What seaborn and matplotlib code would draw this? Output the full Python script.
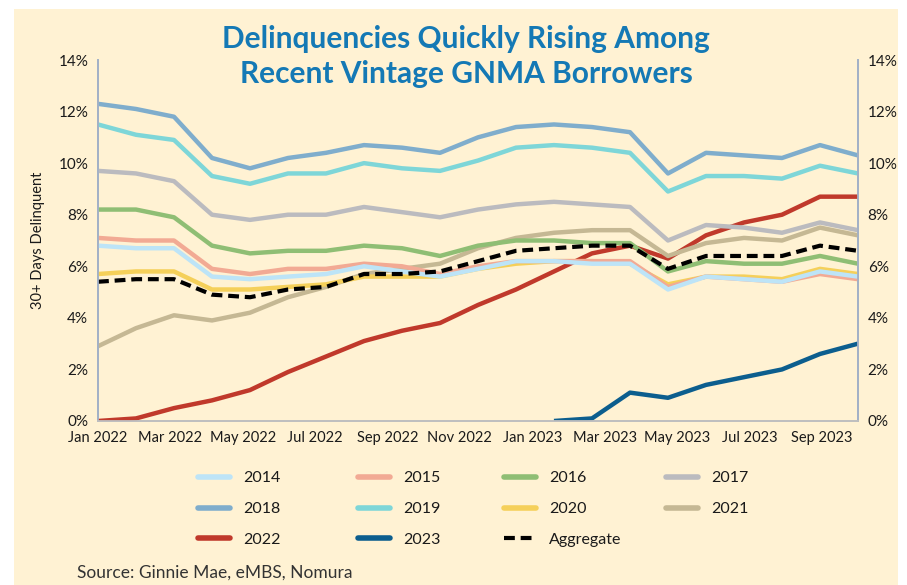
import numpy as np
import pandas as pd
import matplotlib
matplotlib.use("Agg")
import matplotlib.pyplot as plt
from matplotlib.lines import Line2D
from matplotlib.patches import Rectangle
import seaborn as sns

# ---------------- data ----------------
months = ["Jan 2022", "Feb 2022", "Mar 2022", "Apr 2022", "May 2022", "Jun 2022", "Jul 2022",
          "Aug 2022", "Sep 2022", "Oct 2022", "Nov 2022", "Dec 2022", "Jan 2023", "Feb 2023",
          "Mar 2023", "Apr 2023", "May 2023", "Jun 2023", "Jul 2023", "Aug 2023", "Sep 2023"]
tick_labels = ["Jan 2022", "Mar 2022", "May 2022", "Jul 2022", "Sep 2022", "Nov 2022",
               "Jan 2023", "Mar 2023", "May 2023", "Jul 2023", "Sep 2023"]

v2014 = [6.8, 6.7, 6.7, 5.6, 5.5, 5.6, 5.7, 6.0, 5.8, 5.6, 5.9, 6.2, 6.2, 6.1, 6.1, 5.1, 5.6, 5.5, 5.4, 5.8, 5.6]
v2015 = [7.1, 7.0, 7.0, 5.9, 5.7, 5.9, 5.9, 6.1, 6.0, 5.7, 6.0, 6.2, 6.2, 6.2, 6.2, 5.2, 5.6, 5.5, 5.4, 5.7, 5.5]
v2016 = [8.2, 8.2, 7.9, 6.8, 6.5, 6.6, 6.6, 6.8, 6.7, 6.4, 6.8, 7.0, 7.0, 6.9, 6.9, 5.8, 6.2, 6.1, 6.1, 6.4, 6.1]
v2017 = [9.7, 9.6, 9.3, 8.0, 7.8, 8.0, 8.0, 8.3, 8.1, 7.9, 8.2, 8.4, 8.5, 8.4, 8.3, 7.0, 7.6, 7.5, 7.3, 7.7, 7.4]
v2018 = [12.3, 12.1, 11.8, 10.2, 9.8, 10.2, 10.4, 10.7, 10.6, 10.4, 11.0, 11.4, 11.5, 11.4, 11.2, 9.6, 10.4, 10.3, 10.2, 10.7, 10.3]
v2019 = [11.5, 11.1, 10.9, 9.5, 9.2, 9.6, 9.6, 10.0, 9.8, 9.7, 10.1, 10.6, 10.7, 10.6, 10.4, 8.9, 9.5, 9.5, 9.4, 9.9, 9.6]
v2020 = [5.7, 5.8, 5.8, 5.1, 5.1, 5.2, 5.3, 5.6, 5.6, 5.6, 5.9, 6.1, 6.2, 6.2, 6.1, 5.3, 5.6, 5.6, 5.5, 5.9, 5.7]
v2021 = [2.9, 3.6, 4.1, 3.9, 4.2, 4.8, 5.2, 5.7, 5.9, 6.1, 6.7, 7.1, 7.3, 7.4, 7.4, 6.4, 6.9, 7.1, 7.0, 7.5, 7.2]
v2022 = [0.0, 0.1, 0.5, 0.8, 1.2, 1.9, 2.5, 3.1, 3.5, 3.8, 4.5, 5.1, 5.8, 6.5, 6.8, 6.3, 7.2, 7.7, 8.0, 8.7, 8.7]
v2023 = [np.nan] * 12 + [0.0, 0.1, 1.1, 0.9, 1.4, 1.7, 2.0, 2.6, 3.0]
vagg = [5.4, 5.5, 5.5, 4.9, 4.8, 5.1, 5.2, 5.7, 5.7, 5.8, 6.2, 6.6, 6.7, 6.8, 6.8, 5.9, 6.4, 6.4, 6.4, 6.8, 6.6]

series_names = ["2014", "2015", "2016", "2017", "2018", "2019", "2020", "2021", "2022", "2023", "Aggregate"]
series_vals = [v2014, v2015, v2016, v2017, v2018, v2019, v2020, v2021, v2022, v2023, vagg]
colors = ["#BDE4F7", "#F2AA94", "#8FBE74", "#BBBBBF", "#7FADCC", "#7ED6D8",
          "#F5D05A", "#C5B894", "#C0392B", "#0C5E8E", "#000000"]

# ---------------- figure ----------------
sns.set_theme(style="white")
plt.rcParams["font.family"] = ["Lato", "DejaVu Sans"]

fig = plt.figure(figsize=(9.07, 5.85), dpi=100)
fig.patch.set_facecolor("white")
bg = "#FFF2D3"
fig.patches.append(Rectangle((14 / 907, 0), 1 - 14 / 907 - 9 / 907, 1 - 9 / 585,
                             transform=fig.transFigure, facecolor=bg, edgecolor="none", zorder=-10))

ax = fig.add_axes([98 / 907, 1 - 421 / 585, (858 - 98) / 907, (421 - 60) / 585])
ax.set_facecolor(bg)

x = np.arange(len(months))
df = pd.DataFrame({"x": x})
for name, vals in zip(series_names, series_vals):
    df[name] = vals

order = list(range(len(series_names)))[::-1]
for i in order:
    name = series_names[i]
    if name == "Aggregate":
        sns.lineplot(data=df, x="x", y=name, ax=ax, color=colors[i], lw=3.0,
                     linestyle=(0, (2.6, 1.4)), zorder=5)
    else:
        sns.lineplot(data=df, x="x", y=name, ax=ax, color=colors[i], lw=3.2,
                     solid_joinstyle="round", solid_capstyle="butt", zorder=3)

ax.set_xlim(0, len(months) - 1)
ax.set_ylim(0, 14)
ax.set_xticks(np.arange(0, len(months), 2) * (len(months) - 1) / len(months))
ax.set_xticklabels(tick_labels, fontsize=10.5, color="#1a1a1a")
yt = np.arange(0, 15, 2)
ax.set_yticks(yt)
ax.set_yticklabels([f"{v}%" for v in yt], fontsize=11, color="#1a1a1a")
ax.set_xlabel("")
ax.set_ylabel("30+ Days Delinquent", fontsize=10.5, color="#1a1a1a", labelpad=10)
ax.tick_params(axis="both", length=0, pad=7)
ax.grid(False)

ax2 = ax.twinx()
ax2.set_ylim(0, 14)
ax2.set_yticks(yt)
ax2.set_yticklabels([f"{v}%" for v in yt], fontsize=11, color="#1a1a1a")
ax2.tick_params(axis="y", length=0, pad=7)
ax2.grid(False)

for a in (ax, ax2):
    a.spines["top"].set_visible(False)
    a.spines["left"].set_color("#A3B1C6")
    a.spines["right"].set_color("#A3B1C6")
    a.spines["bottom"].set_color("#BFBFBF")
    for s in ("left", "right", "bottom"):
        a.spines[s].set_linewidth(1.3)

# title
fig.text(466 / 907, 1 - 39 / 585, "Delinquencies Quickly Rising Among", ha="center", va="center",
         fontsize=21.5, fontweight="bold", color="#1479B5")
fig.text(466 / 907, 1 - 74 / 585, "Recent Vintage GNMA Borrowers", ha="center", va="center",
         fontsize=21.5, fontweight="bold", color="#1479B5")

# legends: 4 columns laid out like the original
def handle(i):
    if series_names[i] == "Aggregate":
        return Line2D([], [], color=colors[i], lw=3.0, linestyle=(0, (2.6, 1.4)))
    return Line2D([], [], color=colors[i], lw=4.0)

columns = [[0, 4, 8], [1, 5, 9], [2, 6, 10], [3, 7]]
col_x = [198, 358, 504, 666]
for cx, idxs in zip(col_x, columns):
    leg = fig.legend([handle(i) for i in idxs], [series_names[i] for i in idxs],
                     loc="upper left", bbox_to_anchor=(cx / 907, 1 - 471 / 585),
                     frameon=False, fontsize=11.5, handlelength=2.0, handletextpad=0.8,
                     labelspacing=1.05, borderpad=0, borderaxespad=0)
    for t in leg.get_texts():
        t.set_color("#1a1a1a")

fig.text(77 / 907, 1 - 573 / 585, "Source: Ginnie Mae, eMBS, Nomura", ha="left", va="center",
         fontsize=12.5, color="#333333")

fig.savefig("out.png", dpi=100, facecolor=fig.get_facecolor())
